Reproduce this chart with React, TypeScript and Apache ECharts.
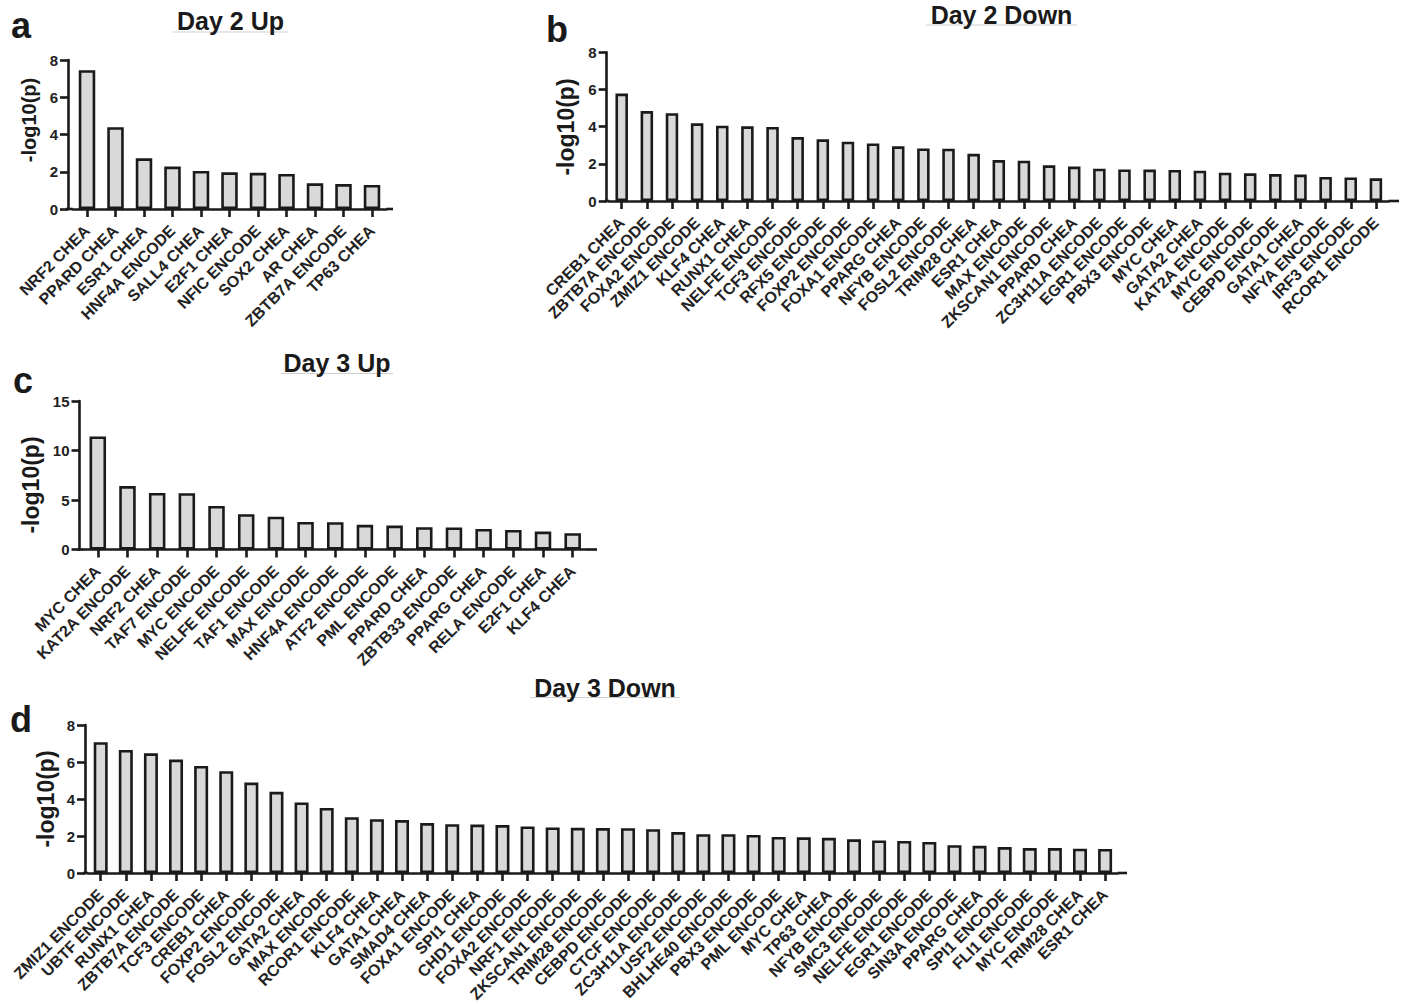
import React, { useEffect, useRef } from "react";
import * as echarts from "echarts";

// ---------- DATA ----------
const day2UpCats = ["NRF2 CHEA", "PPARD CHEA", "ESR1 CHEA", "HNF4A ENCODE", "SALL4 CHEA", "E2F1 CHEA", "NFIC ENCODE", "SOX2 CHEA", "AR CHEA", "ZBTB7A ENCODE", "TP63 CHEA"];
const day2UpVals = [7.45, 4.39, 2.72, 2.28, 2.04, 1.97, 1.94, 1.88, 1.38, 1.34, 1.29];

const day2DownCats = ["CREB1 CHEA", "ZBTB7A ENCODE", "FOXA2 ENCODE", "ZMIZ1 ENCODE", "KLF4 CHEA", "RUNX1 CHEA", "NELFE ENCODE", "TCF3 ENCODE", "RFX5 ENCODE", "FOXP2 ENCODE", "FOXA1 ENCODE", "PPARG CHEA", "NFYB ENCODE", "FOSL2 ENCODE", "TRIM28 CHEA", "ESR1 CHEA", "MAX ENCODE", "ZKSCAN1 ENCODE", "PPARD CHEA", "ZC3H11A ENCODE", "EGR1 ENCODE", "PBX3 ENCODE", "MYC CHEA", "GATA2 CHEA", "KAT2A ENCODE", "MYC ENCODE", "CEBPD ENCODE", "GATA1 CHEA", "NFYA ENCODE", "IRF3 ENCODE", "RCOR1 ENCODE"];
const day2DownVals = [5.78, 4.84, 4.72, 4.18, 4.05, 4.02, 3.98, 3.44, 3.32, 3.19, 3.1, 2.94, 2.83, 2.81, 2.54, 2.2, 2.17, 1.92, 1.85, 1.74, 1.7, 1.69, 1.67, 1.63, 1.52, 1.49, 1.45, 1.42, 1.29, 1.27, 1.22];

const day3UpCats = ["MYC CHEA", "KAT2A ENCODE", "NRF2 CHEA", "TAF7 ENCODE", "MYC ENCODE", "NELFE ENCODE", "TAF1 ENCODE", "MAX ENCODE", "HNF4A ENCODE", "ATF2 ENCODE", "PML ENCODE", "PPARD CHEA", "ZBTB33 ENCODE", "PPARG CHEA", "RELA ENCODE", "E2F1 CHEA", "KLF4 CHEA"];
const day3UpVals = [11.42, 6.41, 5.71, 5.68, 4.4, 3.56, 3.32, 2.79, 2.76, 2.49, 2.42, 2.26, 2.22, 2.08, 1.98, 1.81, 1.65];

const day3DownCats = ["ZMIZ1 ENCODE", "UBTF ENCODE", "RUNX1 CHEA", "ZBTB7A ENCODE", "TCF3 ENCODE", "CREB1 CHEA", "FOXP2 ENCODE", "FOSL2 ENCODE", "GATA2 CHEA", "MAX ENCODE", "RCOR1 ENCODE", "KLF4 CHEA", "GATA1 CHEA", "SMAD4 CHEA", "FOXA1 ENCODE", "SPI1 CHEA", "CHD1 ENCODE", "FOXA2 ENCODE", "NRF1 ENCODE", "ZKSCAN1 ENCODE", "TRIM28 ENCODE", "CEBPD ENCODE", "CTCF ENCODE", "ZC3H11A ENCODE", "USF2 ENCODE", "BHLHE40 ENCODE", "PBX3 ENCODE", "PML ENCODE", "MYC CHEA", "TP63 CHEA", "NFYB ENCODE", "SMC3 ENCODE", "NELFE ENCODE", "EGR1 ENCODE", "SIN3A ENCODE", "PPARG CHEA", "SPI1 ENCODE", "FLI1 ENCODE", "MYC ENCODE", "TRIM28 CHEA", "ESR1 CHEA"];
const day3DownVals = [7.07, 6.65, 6.47, 6.13, 5.79, 5.5, 4.89, 4.39, 3.81, 3.52, 3.02, 2.91, 2.86, 2.7, 2.64, 2.62, 2.59, 2.52, 2.46, 2.44, 2.43, 2.42, 2.37, 2.21, 2.1, 2.1, 2.06, 1.95, 1.93, 1.9, 1.82, 1.76, 1.73, 1.68, 1.5, 1.47, 1.4, 1.35, 1.35, 1.31, 1.3];

const titles = ["Day 2 Up", "Day 2 Down", "Day 3 Up", "Day 3 Down"];
const panelLetters = ["a", "b", "c", "d"];
const yAxisTitle = "-log10(p)";
const yMaxes = [8, 8, 15, 8];
const yIntervals = [2, 2, 5, 2];

// ---------- LAYOUT ----------
const FONT = "'Liberation Sans', Arial, Helvetica, sans-serif";
const INK = "#1a1a1a";
const FILL = "#d9d9d9";
const LW = 2.6;
const TICK = 8;

const layouts = [
  { axisX: 68, y0: 209, yTop: 60, first: 87, step: 28.5, axisEnd: 393, barW: 16.5,
    title: { x: 230.5, y: 21.3, x0: 173, x1: 288, ul: 32 }, letter: { x: 11, y: 25.5 },
    yName: { x: 28.5, y: 120, size: 20 } },
  { axisX: 606.7, y0: 201, yTop: 52.3, first: 621.7, step: 25.14, axisEnd: 1399, barW: 12.5,
    title: { x: 1001.5, y: 14.6, x0: 926, x1: 1077, ul: 25 }, letter: { x: 546, y: 29.2 },
    yName: { x: 565.5, y: 127, size: 23 } },
  { axisX: 79.5, y0: 549.5, yTop: 401, first: 97.8, step: 29.68, axisEnd: 597, barW: 16.5,
    title: { x: 337, y: 363, x0: 281, x1: 393, ul: 373.5 }, letter: { x: 13, y: 380.5 },
    yName: { x: 30.5, y: 485, size: 23 } },
  { axisX: 85, y0: 873, yTop: 725, first: 100.7, step: 25.11, axisEnd: 1127, barW: 14,
    title: { x: 605, y: 688, x0: 530, x1: 680, ul: 697.5 }, letter: { x: 10, y: 719.2 },
    yName: { x: 46, y: 799, size: 23 } },
];

const catsList = [day2UpCats, day2DownCats, day3UpCats, day3DownCats];
const valsList = [day2UpVals, day2DownVals, day3UpVals, day3DownVals];

function buildOption() {
  const grid: any[] = [];
  const xAxis: any[] = [];
  const yAxis: any[] = [];
  const series: any[] = [];
  const graphic: any[] = [];

  layouts.forEach((L, i) => {
    const n = catsList[i].length;
    const left = L.first - L.step / 2;
    const width = L.step * n;
    grid.push({
      left, top: L.yTop, width, height: L.y0 - L.yTop,
      containLabel: false, outerBoundsMode: "none",
    });
    xAxis.push({
      type: "category",
      gridIndex: i,
      data: catsList[i],
      axisLine: { show: true, lineStyle: { color: INK, width: LW } },
      axisTick: { show: true, alignWithLabel: true, length: TICK, lineStyle: { color: INK, width: LW } },
      axisLabel: {
        interval: 0, rotate: 45, margin: 19, color: "#222",
        fontFamily: FONT, fontWeight: "bold", fontSize: 16,
      },
      splitLine: { show: false },
    });
    yAxis.push({
      type: "value",
      gridIndex: i,
      min: 0, max: yMaxes[i], interval: yIntervals[i],
      offset: left - L.axisX,
      axisLine: { show: true, lineStyle: { color: INK, width: LW } },
      axisTick: { show: true, length: TICK, lineStyle: { color: INK, width: LW } },
      axisLabel: { margin: TICK + 2, color: "#222", fontFamily: FONT, fontWeight: "bold", fontSize: 15 },
      splitLine: { show: false },
    });
    series.push({
      type: "bar",
      xAxisIndex: i,
      yAxisIndex: i,
      data: valsList[i],
      barWidth: L.barW,
      itemStyle: { color: FILL, borderColor: INK, borderWidth: LW },
      silent: true,
    });

    // extend baseline to the y axis and beyond the last band
    graphic.push({
      type: "line", silent: true,
      shape: { x1: L.axisX - 2, y1: L.y0, x2: left, y2: L.y0 },
      style: { stroke: INK, lineWidth: LW },
    });
    graphic.push({
      type: "line", silent: true,
      shape: { x1: left + width, y1: L.y0, x2: L.axisEnd, y2: L.y0 },
      style: { stroke: INK, lineWidth: LW },
    });
    // title underline
    graphic.push({
      type: "line", silent: true,
      shape: { x1: L.title.x0, y1: L.title.ul, x2: L.title.x1, y2: L.title.ul },
      style: { stroke: "#cfcfcf", lineWidth: 1 },
    });
    // title
    graphic.push({
      type: "text", x: L.title.x, y: L.title.y,
      style: {
        text: titles[i], fill: "#1a1a1a", font: `bold 25px ${FONT}`,
        textAlign: "center", textVerticalAlign: "middle",
      },
    });
    // panel letter
    graphic.push({
      type: "text", x: L.letter.x, y: L.letter.y,
      style: {
        text: panelLetters[i], fill: "#1a1a1a", font: `bold 36px ${FONT}`,
        textAlign: "left", textVerticalAlign: "middle",
      },
    });
    // y axis title
    graphic.push({
      type: "text", x: L.yName.x, y: L.yName.y, rotation: Math.PI / 2,
      style: {
        text: yAxisTitle, fill: "#1a1a1a", font: `bold ${L.yName.size}px ${FONT}`,
        textAlign: "center", textVerticalAlign: "middle",
      },
    });
  });

  return {
    animation: false,
    backgroundColor: "#ffffff",
    grid, xAxis, yAxis, series, graphic,
  };
}

export default function App() {
  const ref = useRef<HTMLDivElement>(null);
  useEffect(() => {
    if (!ref.current) return;
    const chart = echarts.init(ref.current, undefined, { renderer: "svg" });
    chart.setOption(buildOption() as any);
    return () => chart.dispose();
  }, []);
  return (
    <div
      ref={ref}
      style={{ position: "fixed", left: 0, top: 0, width: 1406, height: 1004, background: "#fff" }}
    />
  );
}
